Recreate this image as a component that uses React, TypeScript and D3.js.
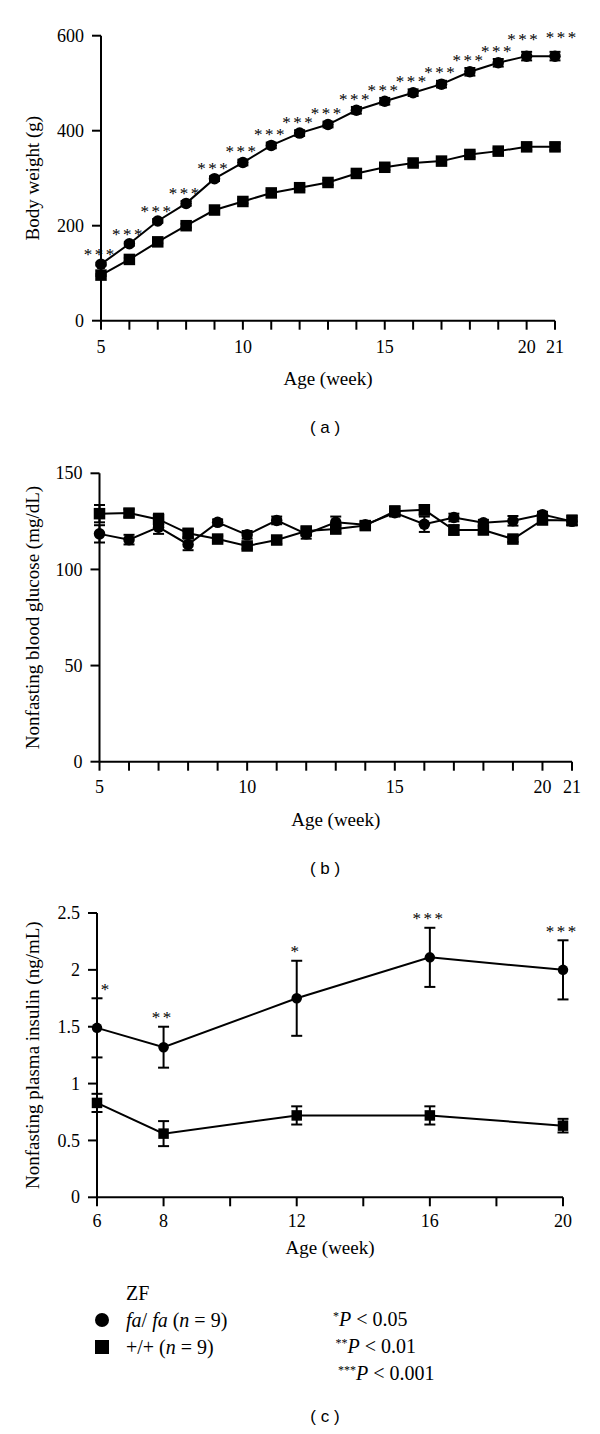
import React from "react";
import * as d3 from "d3";

// ---------- data ----------
const weeksAB = [5, 6, 7, 8, 9, 10, 11, 12, 13, 14, 15, 16, 17, 18, 19, 20, 21];
const tickLabelsAB = [5, 10, 15, 20, 21];

// (a) body weight (g)
const bwFa = [119, 162, 210, 247, 299, 333, 369, 395, 413, 443, 462, 480, 498, 524, 543, 557, 557];
const bwFaErr = [3, 4, 4, 5, 5, 6, 6, 6, 6, 7, 7, 7, 7, 8, 8, 9, 9];
const bwLean = [96, 129, 166, 200, 233, 251, 269, 280, 291, 310, 323, 332, 336, 350, 357, 366, 366];
const bwLeanErr = [2, 3, 3, 4, 4, 4, 5, 5, 5, 5, 6, 6, 6, 6, 6, 7, 7];
const bwSig = ["***", "***", "***", "***", "***", "***", "***", "***", "***", "***", "***", "***", "***", "***", "***", "***", "***"];
const bwTicks = [0, 200, 400, 600];

// (b) nonfasting blood glucose (mg/dL)
const gluFa = [118.5, 115.5, 122, 113, 124.5, 118, 125.5, 118.5, 124.5, 123.3, 129.5, 123.5, 127, 124.3, 125.3, 128.5, 125];
const gluFaErr = [4.5, 2.5, 3.5, 3, 1.5, 2, 2, 2.5, 3, 1.5, 2, 4, 2, 1.5, 2.5, 1.5, 2];
const gluLean = [129, 129.3, 126, 118.8, 115.8, 112.2, 115.3, 120, 121, 122.8, 130.3, 131, 120.5, 120.5, 115.8, 125.7, 125.5];
const gluLeanErr = [4.5, 2, 3, 2, 1.5, 1.5, 2, 2, 2, 2, 2.5, 2.5, 2.5, 2, 1.5, 2, 2.5];
const gluTicks = [0, 50, 100, 150];

// (c) nonfasting plasma insulin (ng/mL)
const weeksC = [6, 8, 12, 16, 20];
const weekTicksC = [6, 8, 10, 12, 14, 16, 18, 20];
const tickLabelsC = [6, 8, 12, 16, 20];
const insFa = [1.49, 1.32, 1.75, 2.11, 2.0];
const insFaErr = [0.26, 0.18, 0.33, 0.26, 0.26];
const insLean = [0.83, 0.56, 0.72, 0.72, 0.63];
const insLeanErr = [0.08, 0.11, 0.08, 0.08, 0.06];
const insSig = ["*", "**", "*", "***", "***"];
const insTicks = [0, 0.5, 1, 1.5, 2, 2.5];

// legend
const legendSig = ["*", "**", "***"];
const legendP = ["0.05", "0.01", "0.001"];

const SERIF = "Liberation Serif, Times New Roman, DejaVu Serif, serif";
const SANS = "Liberation Sans, Arial, sans-serif";

type Series = { values: number[]; errs: number[]; shape: "circle" | "square" };

type PanelProps = {
  xDomain: [number, number];
  xRange: [number, number];
  yDomain: [number, number];
  yRange: [number, number];
  xs: number[];
  xTicks: number[];
  xLabels: number[];
  yTicks: number[];
  series: Series[];
  sigs: string[];
  sigGap: number;
  firstSigDx: number;
  endSigShift: boolean;
  yTitle: string;
  titleGap: number;
  tickLabelGap: number;
  panelLabel: string;
  panelLabelY: number;
  markerSize: number;
};

function Marker({ shape, cx, cy, size }: { shape: string; cx: number; cy: number; size: number }) {
  if (shape === "circle") return <circle cx={cx} cy={cy} r={size / 2} fill="#000" />;
  return <rect x={cx - size / 2} y={cy - size / 2} width={size} height={size} fill="#000" />;
}

function Panel(p: PanelProps) {
  const x = d3.scaleLinear().domain(p.xDomain).range(p.xRange);
  const y = d3.scaleLinear().domain(p.yDomain).range(p.yRange);
  const x0 = x(p.xDomain[0]);
  const x1 = x(p.xDomain[1]);
  const y0 = y(p.yDomain[0]);
  const yTop = y(p.yDomain[1]);
  const line = d3
    .line<number>()
    .x((_, i) => x(p.xs[i]))
    .y((d) => y(d));
  const fmt = (v: number) => String(v);
  const sigFs = 17;
  const sig = p.series[0];
  const n = p.sigs.length;
  return (
    <g>
      {/* axes */}
      <line x1={x0} x2={x0} y1={y0} y2={yTop} stroke="#000" strokeWidth={2} />
      <line x1={x0} x2={x1} y1={y0} y2={y0} stroke="#000" strokeWidth={2} />
      {p.yTicks.map((t) => (
        <g key={"yt" + t}>
          <line x1={x0 - 9} x2={x0} y1={y(t)} y2={y(t)} stroke="#000" strokeWidth={2} />
          <text x={x0 - 17} y={y(t)} dy="0.34em" textAnchor="end" fontFamily={SERIF} fontSize={18}>
            {fmt(t)}
          </text>
        </g>
      ))}
      {p.xTicks.map((t) => (
        <line key={"xt" + t} x1={x(t)} x2={x(t)} y1={y0} y2={y0 + 9} stroke="#000" strokeWidth={2} />
      ))}
      {p.xLabels.map((t) => (
        <text
          key={"xl" + t}
          x={x(t)}
          y={y0 + p.tickLabelGap}
          dy="0.34em"
          textAnchor="middle"
          fontFamily={SERIF}
          fontSize={18}
        >
          {fmt(t)}
        </text>
      ))}
      <text
        x={(x0 + x1) / 2}
        y={y0 + p.titleGap}
        dy="0.32em"
        textAnchor="middle"
        fontFamily={SERIF}
        fontSize={19}
      >
        Age (week)
      </text>
      <text
        transform={`translate(33,${(y0 + yTop) / 2}) rotate(-90)`}
        dy="0.32em"
        textAnchor="middle"
        fontFamily={SERIF}
        fontSize={19}
      >
        {p.yTitle}
      </text>
      {/* series */}
      {p.series.map((s, si) => (
        <g key={"s" + si}>
          <path d={line(s.values) || ""} fill="none" stroke="#000" strokeWidth={2} />
          {s.values.map((v, i) => {
            const cx = x(p.xs[i]);
            const hi = y(v + s.errs[i]);
            const lo = y(v - s.errs[i]);
            return (
              <g key={i}>
                <line x1={cx} x2={cx} y1={hi} y2={lo} stroke="#000" strokeWidth={2} />
                <line x1={cx - 5.5} x2={cx + 5.5} y1={hi} y2={hi} stroke="#000" strokeWidth={2} />
                <line x1={cx - 5.5} x2={cx + 5.5} y1={lo} y2={lo} stroke="#000" strokeWidth={2} />
                <Marker shape={s.shape} cx={cx} cy={y(v)} size={p.markerSize} />
              </g>
            );
          })}
        </g>
      ))}
      {/* significance */}
      {p.sigs.map((str, i) => {
        let dx = i === 0 ? p.firstSigDx : -2;
        let dy = 0;
        if (p.endSigShift && i === n - 1) {
          dx = 6;
          dy = -7;
        } else if (p.endSigShift && i === n - 2) {
          dx = -4;
          dy = -5;
        }
        const cx = x(p.xs[i]) + dx;
        const cy = y(sig.values[i] + sig.errs[i]) - p.sigGap + dy;
        return (
          <text
            key={"sig" + i}
            x={cx + 1.2}
            y={cy + sigFs * 0.45}
            textAnchor="middle"
            fontFamily={SERIF}
            fontSize={sigFs}
            letterSpacing={2.5}
          >
            {str}
          </text>
        );
      })}
      <text x={325} y={p.panelLabelY} dy="0.35em" textAnchor="middle" fontFamily={SANS} fontSize={17}>
        ( {p.panelLabel} )
      </text>
    </g>
  );
}

export default function App() {
  const legendRowY = [1320, 1347, 1374];
  return (
    <svg
      width={600}
      height={1434}
      style={{ position: "absolute", left: 0, top: 0, display: "block", background: "#fff" }}
    >
      <rect width={600} height={1434} fill="#fff" />
      <Panel
        xDomain={[5, 21]}
        xRange={[101, 555]}
        yDomain={[0, 600]}
        yRange={[320.7, 35.7]}
        xs={weeksAB}
        xTicks={weeksAB}
        xLabels={tickLabelsAB}
        yTicks={bwTicks}
        series={[
          { values: bwFa, errs: bwFaErr, shape: "circle" },
          { values: bwLean, errs: bwLeanErr, shape: "square" },
        ]}
        sigs={bwSig}
        sigGap={10}
        firstSigDx={-2}
        endSigShift={true}
        yTitle="Body weight (g)"
        titleGap={58}
        tickLabelGap={26}
        panelLabel="a"
        panelLabelY={427}
        markerSize={11.5}
      />
      <Panel
        xDomain={[5, 21]}
        xRange={[99.5, 572]}
        yDomain={[0, 150]}
        yRange={[761.7, 473.3]}
        xs={weeksAB}
        xTicks={weeksAB}
        xLabels={tickLabelsAB}
        yTicks={gluTicks}
        series={[
          { values: gluFa, errs: gluFaErr, shape: "circle" },
          { values: gluLean, errs: gluLeanErr, shape: "square" },
        ]}
        sigs={[]}
        sigGap={11}
        firstSigDx={0}
        endSigShift={false}
        yTitle="Nonfasting blood glucose (mg/dL)"
        titleGap={58}
        tickLabelGap={25}
        panelLabel="b"
        panelLabelY={868}
        markerSize={11.5}
      />
      <Panel
        xDomain={[6, 20]}
        xRange={[97, 563]}
        yDomain={[0, 2.5]}
        yRange={[1197.3, 913]}
        xs={weeksC}
        xTicks={weekTicksC}
        xLabels={tickLabelsC}
        yTicks={insTicks}
        series={[
          { values: insFa, errs: insFaErr, shape: "circle" },
          { values: insLean, errs: insLeanErr, shape: "square" },
        ]}
        sigs={insSig}
        sigGap={11}
        firstSigDx={8}
        endSigShift={false}
        yTitle="Nonfasting plasma insulin (ng/mL)"
        titleGap={51}
        tickLabelGap={24}
        panelLabel="c"
        panelLabelY={1416}
        markerSize={10.5}
      />
      {/* legend */}
      <g fontFamily={SERIF} fontSize={20}>
        <text x={126} y={1293 + 7}>ZF</text>
        <circle cx={102} cy={legendRowY[0]} r={7} fill="#000" />
        <text x={126} y={legendRowY[0] + 7}>
          <tspan fontStyle="italic">fa</tspan>/ <tspan fontStyle="italic">fa</tspan> (<tspan fontStyle="italic">n</tspan> = 9)
        </text>
        <rect x={95} y={legendRowY[1] - 7} width={14} height={14} fill="#000" />
        <text x={126} y={legendRowY[1] + 7}>
          +/+ (<tspan fontStyle="italic">n</tspan> = 9)
        </text>
        {legendSig.map((s, i) => (
          <text key={"lp" + i} x={333 + i * 2.5} y={legendRowY[i] - 1 + 7}>
            <tspan fontSize={12} dy={-6}>{s}</tspan>
            <tspan fontStyle="italic" dy={6}>P</tspan>
            <tspan>{" < " + legendP[i]}</tspan>
          </text>
        ))}
      </g>
    </svg>
  );
}
